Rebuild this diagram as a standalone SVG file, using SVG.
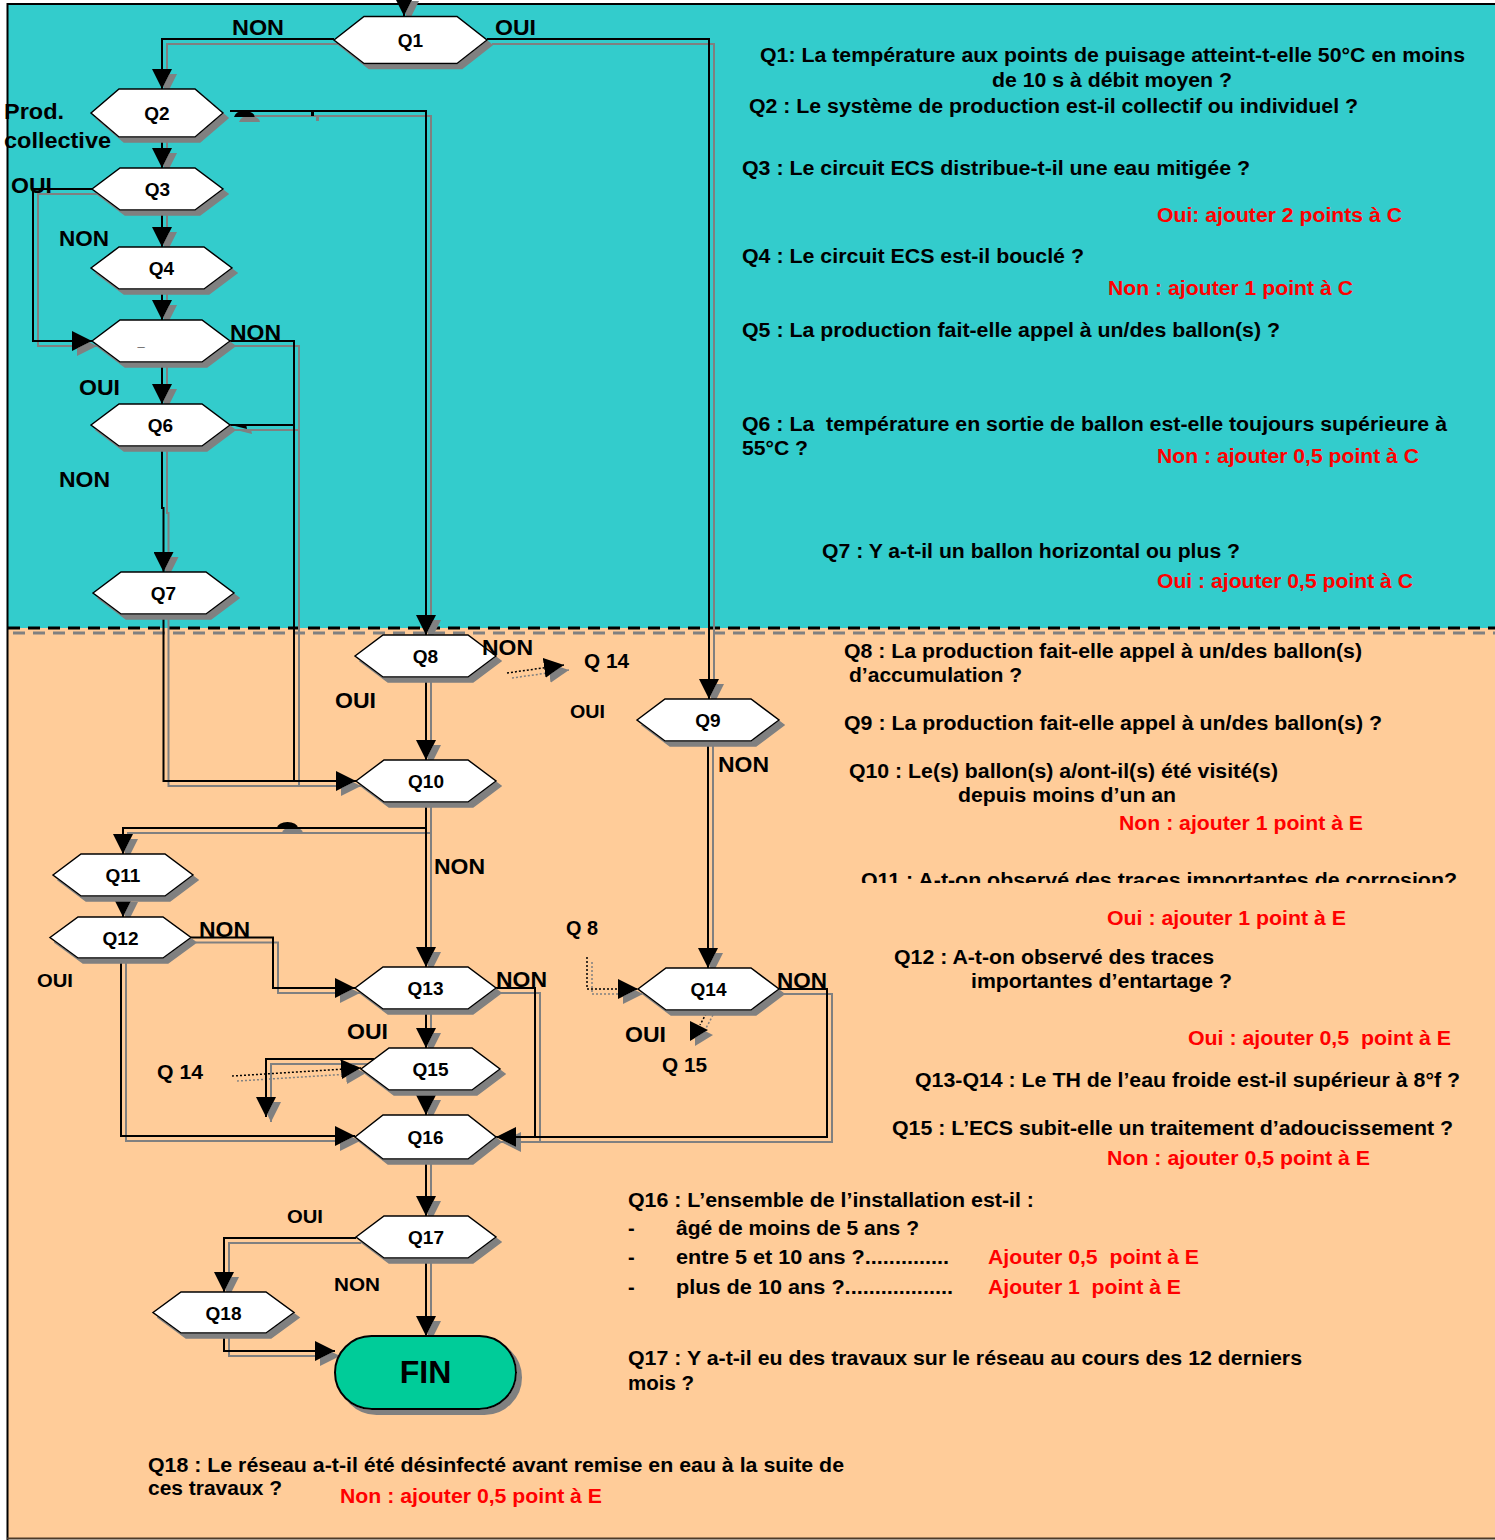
<svg xmlns="http://www.w3.org/2000/svg" width="1495" height="1540" viewBox="0 0 1495 1540">
<style>
text{font-family:"Liberation Sans",Arial,sans-serif;font-weight:bold;fill:#000}
.hex{fill:#fff;stroke:#000;stroke-width:1.5;filter:url(#sh)}
.c{fill:none;stroke:#000;stroke-width:2}
.d{fill:none;stroke:#000;stroke-width:1.5;stroke-dasharray:2 2}
.q{font-size:19px;text-anchor:middle}
.t{font-size:20px}
.l{font-size:22px}
.s{font-size:19px}
.r{fill:#f00}
</style>
<defs>
<filter id="sh" filterUnits="userSpaceOnUse" x="0" y="0" width="1495" height="1540">
<feOffset in="SourceAlpha" dx="5" dy="5" result="o"/>
<feFlood flood-color="#808080"/>
<feComposite in2="o" operator="in" result="s"/>
<feMerge><feMergeNode in="s"/><feMergeNode in="SourceGraphic"/></feMerge>
</filter>
<marker id="ah" viewBox="0 0 20 20" refX="20" refY="10" markerWidth="20" markerHeight="20" markerUnits="userSpaceOnUse" orient="auto">
<path d="M0,0 L20,10 L0,20 z" fill="#000"/>
</marker>
<clipPath id="clipQ11"><rect x="850" y="860" width="640" height="23"/></clipPath>
</defs>

<g id="background">
<rect x="0" y="0" width="1495" height="1540" fill="#fff"/>
<rect x="8" y="4" width="1487" height="624" fill="#33CCCC"/>
<rect x="8" y="628" width="1487" height="910" fill="#FFCC99"/>
<path d="M7.5,1540 V4 H1495" fill="none" stroke="#000" stroke-width="2"/>
<line x1="7" y1="1538.5" x2="1495" y2="1538.5" stroke="#4d3b2a" stroke-width="2"/>
<line x1="8" y1="628" x2="1495" y2="628" stroke="#000" stroke-width="3" stroke-dasharray="12 8" filter="url(#sh)"/>
</g>

<g id="connectors" filter="url(#sh)">
<path class="c" d="M404,0 V16" marker-end="url(#ah)"/>
<path class="c" d="M334,39 H162 V89" marker-end="url(#ah)"/>
<path class="c" d="M487,39 H709 V699" marker-end="url(#ah)"/>
<path class="c" d="M230,111 H426 V635" marker-end="url(#ah)"/>
<path d="M234,117 Q236,110 246,111 Q254,112 255,117 Z" fill="#000"/>
<rect x="311" y="111" width="3" height="5" fill="#000"/>
<path class="c" d="M162,137 V168" marker-end="url(#ah)"/>
<path class="c" d="M162,210 V247" marker-end="url(#ah)"/>
<path class="c" d="M162,289 V320" marker-end="url(#ah)"/>
<path class="c" d="M92,189 H33 V341 H92" marker-end="url(#ah)"/>
<path class="c" d="M162,362 V404" marker-end="url(#ah)"/>
<path class="c" d="M230,341 H294 V781"/>
<path class="c" d="M230,425 H294"/>
<path d="M231,425 L246,424 L247,429 Z" fill="#000"/>
<path class="c" d="M162,446 V508 H163.5 V572" marker-end="url(#ah)"/>
<path class="c" d="M163.5,614 V781 H356" marker-end="url(#ah)"/>
<path class="c" d="M426,677 V760" marker-end="url(#ah)"/>
<path class="d" d="M507,673 L564,665" marker-end="url(#ah)"/>
<path class="c" d="M708,741 V968" marker-end="url(#ah)"/>
<path class="c" d="M426,802 V967" marker-end="url(#ah)"/>
<path class="c" d="M426,828 H123 V854" marker-end="url(#ah)"/>
<path d="M277,828 A10.5,6 0 0 1 298,828 Z" fill="#000"/>
<path class="c" d="M123,896 V917" marker-end="url(#ah)"/>
<path class="c" d="M191,937.5 H273 V988 H355" marker-end="url(#ah)"/>
<path class="c" d="M121,958 V1136 H355" marker-end="url(#ah)"/>
<path class="c" d="M426,1009 V1048" marker-end="url(#ah)"/>
<path class="c" d="M496,988 H535 V1137"/>
<path class="c" d="M779,989 H827 V1137 H496" marker-end="url(#ah)"/>
<path class="c" d="M426,1090 V1115" marker-end="url(#ah)"/>
<path class="c" d="M374,1059 H266 V1117" marker-end="url(#ah)"/>
<path class="d" d="M232,1076 L361,1068" marker-end="url(#ah)"/>
<path class="d" d="M587,957 V989 H638" marker-end="url(#ah)"/>
<path class="d" d="M708,1010 L700,1025"/>
<path d="M690,1021 L708,1030 L690,1041 Z" fill="#000"/>
<path class="c" d="M426,1159 V1216" marker-end="url(#ah)"/>
<path class="c" d="M356,1238 H224 V1292" marker-end="url(#ah)"/>
<path class="c" d="M426,1258 V1336" marker-end="url(#ah)"/>
<path class="c" d="M224,1333 V1351 H335" marker-end="url(#ah)"/>
</g>

<g id="Q1"><polygon class="hex" points="334,40 364,16.5 457,16.5 487,40 457,63.5 364,63.5"/><text class="q" x="410.5" y="47">Q1</text></g>
<g id="Q2"><polygon class="hex" points="91,113 119,89 195,89 223,113 195,137 119,137"/><text class="q" x="157" y="120">Q2</text></g>
<g id="Q3"><polygon class="hex" points="92,189 120,168 195,168 223,189 195,210 120,210"/><text class="q" x="157.5" y="196">Q3</text></g>
<g id="Q4"><polygon class="hex" points="91,268 119,247 204,247 232,268 204,289 119,289"/><text class="q" x="161.5" y="275">Q4</text></g>
<g id="Q5"><polygon class="hex" points="92,341 120,320 202,320 230,341 202,362 120,362"/><text x="141" y="346" style="font-size:13px;text-anchor:middle">_</text></g>
<g id="Q6"><polygon class="hex" points="91,425 119,404 202,404 230,425 202,446 119,446"/><text class="q" x="160.5" y="432">Q6</text></g>
<g id="Q7"><polygon class="hex" points="93,593 121,572 206,572 234,593 206,614 121,614"/><text class="q" x="163.5" y="600">Q7</text></g>
<g id="Q8"><polygon class="hex" points="355,656 383,635 468,635 496,656 468,677 383,677"/><text class="q" x="425.5" y="663">Q8</text></g>
<g id="Q9"><polygon class="hex" points="637,720 665,699 751,699 779,720 751,741 665,741"/><text class="q" x="708" y="727">Q9</text></g>
<g id="Q10"><polygon class="hex" points="356,781 384,760 468,760 496,781 468,802 384,802"/><text class="q" x="426" y="788">Q10</text></g>
<g id="Q11"><polygon class="hex" points="53,875 81,854 165,854 193,875 165,896 81,896"/><text class="q" x="123" y="882">Q11</text></g>
<g id="Q12"><polygon class="hex" points="50,937.5 78,917 163,917 191,937.5 163,958 78,958"/><text class="q" x="120.5" y="944.5">Q12</text></g>
<g id="Q13"><polygon class="hex" points="355,988 383,967 468,967 496,988 468,1009 383,1009"/><text class="q" x="425.5" y="995">Q13</text></g>
<g id="Q14"><polygon class="hex" points="638,989 666,968 751,968 779,989 751,1010 666,1010"/><text class="q" x="708.5" y="996">Q14</text></g>
<g id="Q15"><polygon class="hex" points="361,1069 389,1048 472,1048 500,1069 472,1090 389,1090"/><text class="q" x="430.5" y="1076">Q15</text></g>
<g id="Q16"><polygon class="hex" points="355,1137 383,1115 468,1115 496,1137 468,1159 383,1159"/><text class="q" x="425.5" y="1144">Q16</text></g>
<g id="Q17"><polygon class="hex" points="356,1237 384,1216 468,1216 496,1237 468,1258 384,1258"/><text class="q" x="426" y="1244">Q17</text></g>
<g id="Q18"><polygon class="hex" points="153,1312.5 181,1292 266,1292 294,1312.5 266,1333 181,1333"/><text class="q" x="223.5" y="1319.5">Q18</text></g>
<g id="FIN"><rect x="335" y="1336" width="181" height="73" rx="36.5" fill="#00CC99" stroke="#000" stroke-width="2" filter="url(#sh)"/><text x="425.5" y="1383" style="font-size:32px;text-anchor:middle">FIN</text></g>

<g id="edge-labels">
<text class="l" x="232" y="35" textLength="52" lengthAdjust="spacingAndGlyphs">NON</text>
<text class="l" x="495" y="35" textLength="41" lengthAdjust="spacingAndGlyphs">OUI</text>
<text class="l" x="4" y="119" textLength="60" lengthAdjust="spacingAndGlyphs">Prod.</text>
<text class="l" x="4" y="148" textLength="107" lengthAdjust="spacingAndGlyphs">collective</text>
<text class="l" x="11" y="193" textLength="41" lengthAdjust="spacingAndGlyphs">OUI</text>
<text class="l" x="59" y="246" textLength="50" lengthAdjust="spacingAndGlyphs">NON</text>
<text class="l" x="230" y="340" textLength="51" lengthAdjust="spacingAndGlyphs">NON</text>
<text class="l" x="79" y="395" textLength="41" lengthAdjust="spacingAndGlyphs">OUI</text>
<text class="l" x="59" y="487" textLength="51" lengthAdjust="spacingAndGlyphs">NON</text>
<text class="l" x="482" y="655" textLength="51" lengthAdjust="spacingAndGlyphs">NON</text>
<text class="t" x="584" y="668" textLength="45" lengthAdjust="spacingAndGlyphs">Q 14</text>
<text class="l" x="335" y="708" textLength="41" lengthAdjust="spacingAndGlyphs">OUI</text>
<text class="s" x="570" y="718" textLength="35" lengthAdjust="spacingAndGlyphs">OUI</text>
<text class="l" x="718" y="772" textLength="51" lengthAdjust="spacingAndGlyphs">NON</text>
<text class="l" x="434" y="874" textLength="51" lengthAdjust="spacingAndGlyphs">NON</text>
<text class="t" x="566" y="935" textLength="32" lengthAdjust="spacingAndGlyphs">Q 8</text>
<text class="l" x="199" y="937" textLength="51" lengthAdjust="spacingAndGlyphs">NON</text>
<text class="s" x="37" y="987" textLength="36" lengthAdjust="spacingAndGlyphs">OUI</text>
<text class="l" x="496" y="987" textLength="51" lengthAdjust="spacingAndGlyphs">NON</text>
<text class="l" x="777" y="988" textLength="50" lengthAdjust="spacingAndGlyphs">NON</text>
<text class="l" x="347" y="1039" textLength="41" lengthAdjust="spacingAndGlyphs">OUI</text>
<text class="l" x="625" y="1042" textLength="41" lengthAdjust="spacingAndGlyphs">OUI</text>
<text class="t" x="662" y="1072" textLength="45" lengthAdjust="spacingAndGlyphs">Q 15</text>
<text class="t" x="157" y="1079" textLength="46" lengthAdjust="spacingAndGlyphs">Q 14</text>
<text class="s" x="287" y="1223" textLength="36" lengthAdjust="spacingAndGlyphs">OUI</text>
<text class="s" x="334" y="1291" textLength="46" lengthAdjust="spacingAndGlyphs">NON</text>
</g>

<g id="legend">
<text class="t" x="760" y="62" textLength="705" lengthAdjust="spacingAndGlyphs">Q1: La température aux points de puisage atteint-t-elle 50°C en moins</text>
<text class="t" x="992" y="87" textLength="240" lengthAdjust="spacingAndGlyphs">de 10 s à débit moyen ?</text>
<text class="t" x="749" y="113" textLength="609" lengthAdjust="spacingAndGlyphs">Q2 : Le système de production est-il collectif ou individuel ?</text>
<text class="t" x="742" y="175" textLength="508" lengthAdjust="spacingAndGlyphs">Q3 : Le circuit ECS distribue-t-il une eau mitigée ?</text>
<text class="t r" x="1157" y="222" textLength="245" lengthAdjust="spacingAndGlyphs">Oui: ajouter 2 points à C</text>
<text class="t" x="742" y="263" textLength="342" lengthAdjust="spacingAndGlyphs">Q4 : Le circuit ECS est-il bouclé ?</text>
<text class="t r" x="1108" y="295" textLength="245" lengthAdjust="spacingAndGlyphs">Non : ajouter 1 point à C</text>
<text class="t" x="742" y="337" textLength="538" lengthAdjust="spacingAndGlyphs">Q5 : La production fait-elle appel à un/des ballon(s) ?</text>
<text class="t" x="742" y="431" textLength="705" lengthAdjust="spacingAndGlyphs" xml:space="preserve">Q6 : La  température en sortie de ballon est-elle toujours supérieure à</text>
<text class="t" x="742" y="455" textLength="66" lengthAdjust="spacingAndGlyphs">55°C ?</text>
<text class="t r" x="1157" y="463" textLength="262" lengthAdjust="spacingAndGlyphs">Non : ajouter 0,5 point à C</text>
<text class="t" x="822" y="558" textLength="418" lengthAdjust="spacingAndGlyphs">Q7 : Y a-t-il un ballon horizontal ou plus ?</text>
<text class="t r" x="1157" y="588" textLength="256" lengthAdjust="spacingAndGlyphs">Oui : ajouter 0,5 point à C</text>
<text class="t" x="844" y="658" textLength="518" lengthAdjust="spacingAndGlyphs">Q8 : La production fait-elle appel à un/des ballon(s)</text>
<text class="t" x="849" y="682" textLength="173" lengthAdjust="spacingAndGlyphs">d’accumulation ?</text>
<text class="t" x="844" y="730" textLength="538" lengthAdjust="spacingAndGlyphs">Q9 : La production fait-elle appel à un/des ballon(s) ?</text>
<text class="t" x="849" y="778" textLength="429" lengthAdjust="spacingAndGlyphs">Q10 : Le(s) ballon(s) a/ont-il(s) été visité(s)</text>
<text class="t" x="958" y="802" textLength="218" lengthAdjust="spacingAndGlyphs">depuis moins d’un an</text>
<text class="t r" x="1119" y="830" textLength="244" lengthAdjust="spacingAndGlyphs">Non : ajouter 1 point à E</text>
<text class="t" x="861" y="887" textLength="596" lengthAdjust="spacingAndGlyphs" clip-path="url(#clipQ11)">Q11 : A-t-on observé des traces importantes de corrosion?</text>
<text class="t r" x="1107" y="925" textLength="239" lengthAdjust="spacingAndGlyphs">Oui : ajouter 1 point à E</text>
<text class="t" x="894" y="964" textLength="320" lengthAdjust="spacingAndGlyphs">Q12 : A-t-on observé des traces</text>
<text class="t" x="971" y="988" textLength="261" lengthAdjust="spacingAndGlyphs">importantes d’entartage ?</text>
<text class="t r" x="1188" y="1045" textLength="263" lengthAdjust="spacingAndGlyphs" xml:space="preserve">Oui : ajouter 0,5  point à E</text>
<text class="t" x="915" y="1087" textLength="545" lengthAdjust="spacingAndGlyphs">Q13-Q14 : Le TH de l’eau froide est-il supérieur à 8°f ?</text>
<text class="t" x="892" y="1135" textLength="561" lengthAdjust="spacingAndGlyphs">Q15 : L’ECS subit-elle un traitement d’adoucissement ?</text>
<text class="t r" x="1107" y="1165" textLength="263" lengthAdjust="spacingAndGlyphs">Non : ajouter 0,5 point à E</text>
<text class="t" x="628" y="1207" textLength="406" lengthAdjust="spacingAndGlyphs">Q16 : L’ensemble de l’installation est-il :</text>
<text class="t" x="628" y="1235">-</text>
<text class="t" x="676" y="1235" textLength="243" lengthAdjust="spacingAndGlyphs">âgé de moins de 5 ans ?</text>
<text class="t" x="628" y="1264">-</text>
<text class="t" x="676" y="1264" textLength="273" lengthAdjust="spacingAndGlyphs">entre 5 et 10 ans ?..............</text>
<text class="t r" x="988" y="1264" textLength="211" lengthAdjust="spacingAndGlyphs" xml:space="preserve">Ajouter 0,5  point à E</text>
<text class="t" x="628" y="1294">-</text>
<text class="t" x="676" y="1294" textLength="277" lengthAdjust="spacingAndGlyphs">plus de 10 ans ?..................</text>
<text class="t r" x="988" y="1294" textLength="193" lengthAdjust="spacingAndGlyphs" xml:space="preserve">Ajouter 1  point à E</text>
<text class="t" x="628" y="1365" textLength="674" lengthAdjust="spacingAndGlyphs">Q17 : Y a-t-il eu des travaux sur le réseau au cours des 12 derniers</text>
<text class="t" x="628" y="1390" textLength="66" lengthAdjust="spacingAndGlyphs">mois ?</text>
<text class="t" x="148" y="1472" textLength="696" lengthAdjust="spacingAndGlyphs">Q18 : Le réseau a-t-il été désinfecté avant remise en eau à la suite de</text>
<text class="t" x="148" y="1495" textLength="134" lengthAdjust="spacingAndGlyphs">ces travaux ?</text>
<text class="t r" x="340" y="1503" textLength="262" lengthAdjust="spacingAndGlyphs">Non : ajouter 0,5 point à E</text>
</g>
</svg>
